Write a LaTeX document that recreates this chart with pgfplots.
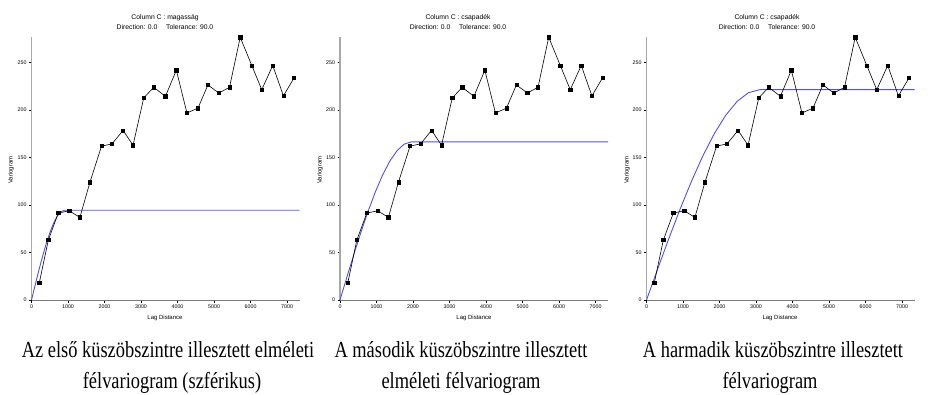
\documentclass[border=0pt]{standalone}
\usepackage{pgfplots}
\pgfplotsset{compat=1.18}
\usepackage{pgfplotstable}
\usepackage{fontspec}
\setmainfont{Liberation Serif}
\newfontfamily\sansf{Liberation Sans}
\definecolor{modelblue}{HTML}{5252E6}
\definecolor{ylinegray}{HTML}{A8A8A8}
\definecolor{xlinegray}{HTML}{7A7A7A}

\pgfplotstableread{
x y
213 18
460 63
733 91.5
1033 94
1325 87
1600 124
1918 162
2208 164.5
2508 178.6
2781 163
3074 212.8
3347 224
3667 214.5
3967 242
4257 197
4558 202
4831 226.5
5131 218
5423 224
5716 276.7
6033 247
6306 221.5
6607 247
6899 215
7191 234
}\expdata

\pgfplotstableread{
x y
0 0
100 15.7
200 31.0
300 45.5
400 58.9
500 70.6
600 80.5
700 88.0
800 92.8
900 94.5
7340 94.5
}\modelA

\pgfplotstableread{
x y
0 0
195 24.9
390 49.3
585 72.7
780 94.6
975 114.5
1170 131.9
1365 146.3
1560 157.2
1755 164.1
1950 166.5
7340 166.5
}\modelB

\pgfplotstableread{
x y
0 0
310 33.1
620 65.6
930 96.7
1240 125.8
1550 152.3
1860 175.4
2170 194.6
2480 209.1
2790 218.3
3100 221.5
7340 221.5
}\modelC

\pgfplotsset{
  vario/.style={
    scale only axis,
    width=268pt, height=263pt,
    anchor=south west,
    xmin=0, xmax=7340, ymin=0, ymax=277,
    axis x line*=bottom, axis y line*=left,
    x axis line style={-, draw=xlinegray, line width=0.9pt},
    y axis line style={-, draw=ylinegray, line width=1.8pt},
    xtick={0,1000,...,7000}, ytick={0,50,...,250},
    tick align=outside, major tick length=2.5pt,
    tick style={draw=black, line width=0.4pt},
    /pgf/number format/assume math mode=true,
    /pgf/number format/1000 sep={},
    tick label style={font=\sansf\fontsize{5.3}{6}\selectfont},
    xticklabel style={yshift=1pt},
    yticklabel style={xshift=1pt},
    clip=false,
  },
  expline/.style={black, line width=0.6pt, mark=square*, mark size=1.6pt, mark options={solid, fill=black}},
  modline/.style={modelblue, line width=0.9pt, no marks},
}

\newcommand{\smallfont}{\sansf\fontsize{6}{7}\selectfont}
\newcommand{\titlefont}{\sansf\fontsize{6.8}{9.5}\selectfont}
\newcommand{\capfont}{\fontsize{23}{26}\selectfont}
\newcommand{\captxt}[1]{\scalebox{0.8}[1]{#1}}

\begin{document}
\begin{tikzpicture}
\path[use as bounding box] (0pt,0pt) rectangle (944pt,-395pt);

% ---------- panel 1 ----------
\begin{axis}[vario, at={(31.5pt,-300pt)}]
\addplot[modline] table {\modelA};
\addplot[expline] table {\expdata};
\end{axis}
\node[font=\titlefont, align=center] at (165pt,-22pt) {Column C : magasság\\Direction: 0.0 \quad Tolerance: 90.0};
\node[font=\smallfont, rotate=90] at (11pt,-170pt) {Variogram};
\node[font=\smallfont] at (165pt,-318pt) {Lag Distance};

% ---------- panel 2 ----------
\begin{axis}[vario, at={(340pt,-300pt)}]
\addplot[modline] table {\modelB};
\addplot[expline] table {\expdata};
\end{axis}
\node[font=\titlefont, align=center] at (458pt,-22pt) {Column C : csapadék\\Direction: 0.0 \quad Tolerance: 90.0};
\node[font=\smallfont, rotate=90] at (320pt,-170pt) {Variogram};
\node[font=\smallfont] at (474pt,-318pt) {Lag Distance};

% ---------- panel 3 ----------
\begin{axis}[vario, at={(646.5pt,-300pt)}]
\addplot[modline] table {\modelC};
\addplot[expline] table {\expdata};
\end{axis}
\node[font=\titlefont, align=center] at (767pt,-22pt) {Column C : csapadék\\Direction: 0.0 \quad Tolerance: 90.0};
\node[font=\smallfont, rotate=90] at (627pt,-170pt) {Variogram};
\node[font=\smallfont] at (780pt,-318pt) {Lag Distance};

% ---------- captions ----------
\node[anchor=base, font=\capfont] at (168pt,-357pt) {\captxt{Az első küszöbszintre illesztett elméleti}};
\node[anchor=base, font=\capfont] at (172pt,-388pt) {\captxt{félvariogram (szférikus)}};
\node[anchor=base, font=\capfont] at (461pt,-357pt) {\captxt{A második küszöbszintre illesztett}};
\node[anchor=base, font=\capfont] at (461pt,-388pt) {\captxt{elméleti félvariogram}};
\node[anchor=base, font=\capfont] at (773pt,-357pt) {\captxt{A harmadik küszöbszintre illesztett}};
\node[anchor=base, font=\capfont] at (770pt,-388pt) {\captxt{félvariogram}};
\end{tikzpicture}
\end{document}
